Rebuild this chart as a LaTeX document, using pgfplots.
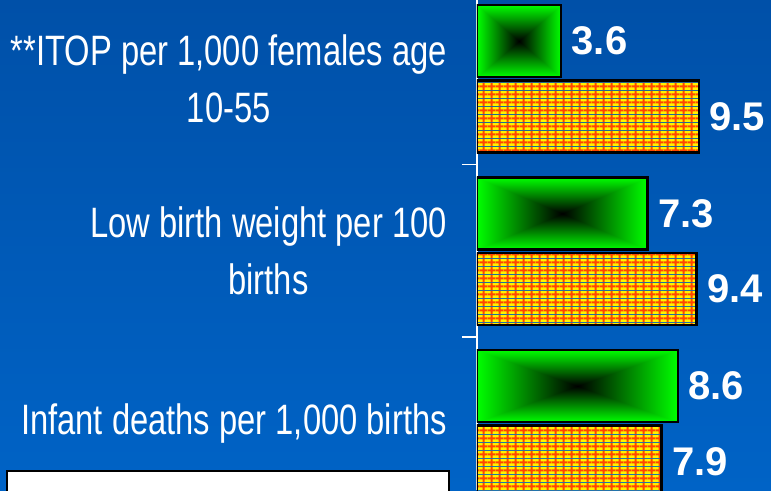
\documentclass[border=0pt]{standalone}
\usepackage{pgfplots}
\pgfplotsset{compat=1.18}
\usetikzlibrary{patterns}
\usepackage{fontspec}
\setmainfont{Liberation Sans}
\newfontfamily\narrowfont[FakeStretch=0.77]{Liberation Sans}

\definecolor{bgtop}{RGB}{0,80,168}
\definecolor{bgbot}{RGB}{0,99,198}
\definecolor{gridred}{RGB}{255,70,0}

% green bars: dark centre, bright green edges
% (TikZ fits the path to the inner half of the shading, hence 25 and the clamp)
\pgfdeclarefunctionalshading{pyramid}{\pgfpoint{-50bp}{-50bp}}{\pgfpoint{50bp}{50bp}}{}{
  abs exch abs 2 copy lt {exch} if pop 25 div dup 1 gt {pop 1} if 0 exch 0
}

% orange bars: yellow cells in a red grid
\pgfdeclarepatterninherentlycolored{ygrid}{\pgfpointorigin}{\pgfpoint{7.5pt}{7.5pt}}{\pgfpoint{7.5pt}{7.5pt}}{
  \pgfsetfillcolor{yellow}
  \pgfpathrectangle{\pgfpointorigin}{\pgfpoint{7.5pt}{7.5pt}}
  \pgfusepath{fill}
  \pgfsetfillcolor{gridred}
  \pgfpathrectangle{\pgfpoint{2.7pt}{0pt}}{\pgfpoint{2.2pt}{7.5pt}}
  \pgfpathrectangle{\pgfpoint{0pt}{2.7pt}}{\pgfpoint{7.5pt}{2.2pt}}
  \pgfusepath{fill}
}

\begin{document}
\begin{tikzpicture}[x=1pt,y=1pt]
\fill[top color=bgtop, bottom color=bgbot] (0,0) rectangle (771,490);
\begin{axis}[
  at={(477pt,0pt)}, anchor=south west,
  scale only axis, width=294pt, height=490pt,
  xbar, bar width=72pt,
  xmin=0, xmax=12.59,
  ymin=-0.455, ymax=2.386, y dir=reverse,
  axis x line=none, axis y line=left,
  y axis line style={white, line width=1.5pt, -},
  ytick={0,1,2},
  yticklabels={{**ITOP per 1,000 females age\\10-55},{Low birth weight per 100\\births},{Infant deaths per 1,000 births}},
  yticklabel style={align=center, font=\narrowfont\fontsize{42.5}{57}\selectfont, text=white, inner sep=0pt, xshift=-30pt},
  major tick length=0pt,
  minor ytick={0.5,1.5},
  minor tick length=15pt,
  tick align=outside,
  minor tick style={white, line width=1.5pt},
  /pgf/number format/assume math mode=true,
  nodes near coords, nodes near coords align=horizontal,
  every node near coord/.append style={font=\bfseries\fontsize{40}{48}\selectfont, text=white, anchor=west, xshift=6pt},
  green bar/.style={draw=black, line width=2.5pt, shade, shading=pyramid, bar shift=37.5pt},
  grid bar/.style={draw=black, line width=2.5pt, pattern=ygrid, bar shift=-38pt},
]
% one plot per green bar so that each bar gets its own shading
\addplot[green bar] coordinates {(3.6,0)};
\addplot[green bar] coordinates {(7.3,1)};
\addplot[green bar] coordinates {(8.6,2)};
\addplot[grid bar] coordinates {(9.5,0) (9.4,1) (7.9,2)};
\end{axis}
\draw[black, line width=1.5pt, fill=white] (7,-20) rectangle (449,19);
\pgfresetboundingbox
\useasboundingbox (0,0) rectangle (771,490);
\end{tikzpicture}
\end{document}
